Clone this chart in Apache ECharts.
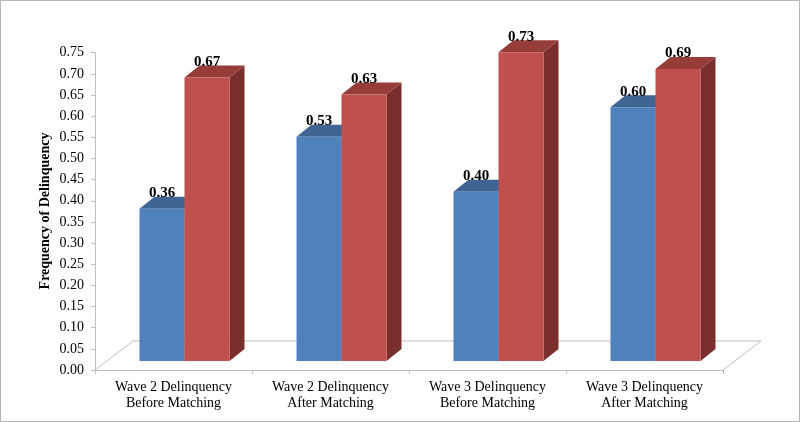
<!DOCTYPE html>
<html>
<head>
<meta charset="utf-8">
<script src="https://cdn.jsdelivr.net/npm/echarts@6/dist/echarts.min.js"></script>
<style>
html,body{margin:0;padding:0;background:#fff;}
#chart{width:800px;height:422px;}
</style>
</head>
<body>
<div id="chart"></div>
<script>
var categories = [
  "Wave 2 Delinquency\nBefore Matching",
  "Wave 2 Delinquency\nAfter Matching",
  "Wave 3 Delinquency\nBefore Matching",
  "Wave 3 Delinquency\nAfter Matching"
];
var seriesBlue = [0.36, 0.53, 0.40, 0.60];
var seriesRed = [0.67, 0.63, 0.73, 0.69];
var yTickMin = 0, yTickMax = 0.75, yTickStep = 0.05;
var yAxisTitle = "Frequency of Delinquency";

var FONT = "'Liberation Serif','Times New Roman',serif";
var SHIFT = [11, -9];     // bar row position inside floor depth
var DEPTH = [15, -12];    // bar depth
var FLOOR = [38, -29];    // floor depth
var BARW = 45;

function barRenderer(sideIndex, front, top, side) {
  return function (params, api) {
    var i = api.value(0), v = api.value(1);
    var base = api.coord([i, 0]);
    var tp = api.coord([i, v]);
    var x0 = base[0] + SHIFT[0] + (sideIndex === 0 ? -BARW : 0);
    var x1 = x0 + BARW;
    var yb = base[1] + SHIFT[1];
    var yt = tp[1] + SHIFT[1];
    var dx = DEPTH[0], dy = DEPTH[1];
    return {
      type: 'group',
      children: [
        {type: 'polygon', shape: {points: [[x1, yb], [x1 + dx, yb + dy], [x1 + dx, yt + dy], [x1, yt]]}, style: {fill: side}},
        {type: 'polygon', shape: {points: [[x0, yt], [x1, yt], [x1 + dx, yt + dy], [x0 + dx, yt + dy]]}, style: {fill: top}},
        {type: 'rect', shape: {x: x0, y: yt, width: BARW, height: yb - yt}, style: {fill: front}},
        {type: 'text', style: {x: (x0 + x1) / 2, y: yt - 15.5, text: v.toFixed(2), textAlign: 'center', textVerticalAlign: 'middle', font: 'bold 15px ' + FONT, fill: '#000'}}
      ]
    };
  };
}

function floorRenderer(params, api) {
  var n = categories.length;
  var band = api.size([1, 0])[0];
  var l = api.coord([0, 0]);
  var r = api.coord([n - 1, 0]);
  var xl = l[0] - band / 2, xr = r[0] + band / 2, y = l[1];
  var st = {stroke: '#BFBFBF', lineWidth: 1, fill: null};
  return {
    type: 'group',
    children: [
      {type: 'polyline', shape: {points: [[xl, y], [xl + FLOOR[0], y + FLOOR[1]], [xr + FLOOR[0], y + FLOOR[1]], [xr, y]]}, style: st}
    ]
  };
}

var chart = echarts.init(document.getElementById('chart'), null, {renderer: 'canvas'});
chart.setOption({
  backgroundColor: '#fff',
  animation: false,
  graphic: [
    {type: 'rect', shape: {x: 0.5, y: 0.5, width: 799, height: 421}, style: {fill: null, stroke: '#B5B5B5', lineWidth: 1}, z: 100},
    {type: 'text', x: 45.5, y: 211, rotation: Math.PI / 2, style: {text: yAxisTitle, textAlign: 'center', textVerticalAlign: 'middle', font: 'bold 14px ' + FONT, fill: '#000'}}
  ],
  grid: {left: 95, right: 77, top: 52.7, bottom: 52, containLabel: false},
  xAxis: {
    type: 'category', data: categories, boundaryGap: true,
    axisLine: {lineStyle: {color: '#BFBFBF'}},
    axisTick: {show: true, length: 4, alignWithLabel: false, lineStyle: {color: '#BFBFBF'}},
    axisLabel: {fontFamily: FONT, fontSize: 14, color: '#000', lineHeight: 16, margin: 9, interval: 0},
    splitLine: {show: false}
  },
  yAxis: {
    type: 'value', min: yTickMin, max: yTickMax, interval: yTickStep,
    axisLine: {show: true, lineStyle: {color: '#BFBFBF'}},
    axisTick: {show: true, length: 4, lineStyle: {color: '#BFBFBF'}},
    axisLabel: {fontFamily: FONT, fontSize: 14, color: '#000', margin: 11, formatter: function (v) { return v.toFixed(2); }},
    splitLine: {show: false}
  },
  series: [
    {type: 'custom', name: 'floor', data: [[0, 0]], renderItem: floorRenderer, z: 1, silent: true},
    {type: 'custom', name: 'Blue', data: seriesBlue.map(function (v, i) { return [i, v]; }),
      renderItem: barRenderer(0, '#4F81BD', '#3E6594', '#2F4F75'), z: 2},
    {type: 'custom', name: 'Red', data: seriesRed.map(function (v, i) { return [i, v]; }),
      renderItem: barRenderer(1, '#C0504D', '#963D3A', '#7A2F2D'), z: 3}
  ]
});
</script>
</body>
</html>
